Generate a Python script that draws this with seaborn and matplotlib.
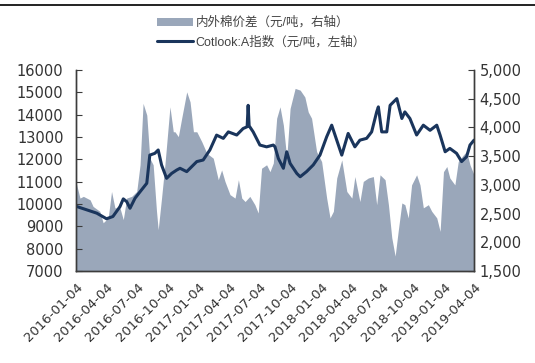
import matplotlib
matplotlib.use("Agg")
import matplotlib.pyplot as plt
from matplotlib.lines import Line2D
import pandas as pd
import seaborn as sns

# Cotlook:A index (yuan/ton, left axis)
cotlook_dates = [
    "2016-01-04", "2016-02-05", "2016-03-06", "2016-04-04", "2016-04-23", "2016-05-14",
    "2016-05-24", "2016-06-03", "2016-06-13", "2016-06-28", "2016-07-13", "2016-08-02",
    "2016-08-11", "2016-08-26", "2016-09-05", "2016-09-15", "2016-09-30", "2016-10-15",
    "2016-10-30", "2016-11-09", "2016-11-29", "2016-12-29", "2017-01-17", "2017-02-06",
    "2017-02-26", "2017-03-18", "2017-04-02", "2017-04-27", "2017-05-16", "2017-05-28",
    "2017-05-31", "2017-06-03", "2017-06-15", "2017-07-05", "2017-07-25", "2017-08-14",
    "2017-08-19", "2017-08-29", "2017-09-13", "2017-09-23", "2017-10-03", "2017-10-23",
    "2017-11-02", "2017-11-21", "2017-12-11", "2017-12-31", "2018-01-20", "2018-02-04",
    "2018-02-19", "2018-03-06", "2018-03-25", "2018-04-14", "2018-04-29", "2018-05-19",
    "2018-06-03", "2018-06-18", "2018-06-23", "2018-07-03", "2018-07-18", "2018-07-28",
    "2018-08-17", "2018-09-01", "2018-09-10", "2018-09-25", "2018-10-15", "2018-11-04",
    "2018-11-24", "2018-12-14", "2018-12-24", "2019-01-08", "2019-01-22", "2019-02-11",
    "2019-02-26", "2019-03-13", "2019-03-23", "2019-04-04",
]
cotlook_values = [
    9900, 9740, 9590, 9340, 9440, 9880,
    10230, 10110, 9810, 10260, 10550, 10930,
    12190, 12270, 12420, 11750, 11150, 11370,
    11520, 11600, 11450, 11900, 11970, 12420,
    13085, 12940, 13230, 13090, 13380, 13460,
    14420, 13500, 13230, 12640, 12560, 12640,
    12560, 12040, 11600, 12340, 11820, 11370,
    11220, 11450, 11750, 12190, 13010, 13530,
    12860, 12190, 13160, 12560, 12860, 12940,
    13230, 14125, 14350, 13230, 13230, 14420,
    14720, 13830, 14125, 13830, 13090, 13530,
    13300, 13530, 13085, 12340, 12490, 12270,
    11900, 12120, 12640, 12860,
]

# Domestic minus imported cotton price spread (yuan/ton, right axis)
spread_dates = [
    "2016-01-04", "2016-01-16", "2016-01-26", "2016-02-15", "2016-02-24", "2016-03-15",
    "2016-03-25", "2016-04-09", "2016-04-19", "2016-04-29", "2016-05-14", "2016-05-24",
    "2016-06-03", "2016-06-18", "2016-07-03", "2016-07-13", "2016-07-22", "2016-08-02",
    "2016-08-11", "2016-08-21", "2016-08-31", "2016-09-05", "2016-09-15", "2016-09-25",
    "2016-10-10", "2016-10-20", "2016-10-25", "2016-11-04", "2016-11-14", "2016-11-29",
    "2016-12-09", "2016-12-19", "2016-12-29", "2017-01-13", "2017-01-28", "2017-02-16",
    "2017-03-03", "2017-03-13", "2017-03-23", "2017-04-07", "2017-04-22", "2017-05-02",
    "2017-05-12", "2017-05-22", "2017-06-05", "2017-06-20", "2017-06-30", "2017-07-10",
    "2017-07-25", "2017-08-04", "2017-08-14", "2017-08-24", "2017-09-03", "2017-09-13",
    "2017-09-23", "2017-10-03", "2017-10-18", "2017-11-02", "2017-11-16", "2017-11-26",
    "2017-12-06", "2017-12-21", "2018-01-05", "2018-01-20", "2018-01-30", "2018-02-09",
    "2018-02-19", "2018-03-06", "2018-03-21", "2018-04-05", "2018-04-14", "2018-04-29",
    "2018-05-09", "2018-05-24", "2018-06-08", "2018-06-18", "2018-06-28", "2018-07-13",
    "2018-07-23", "2018-08-02", "2018-08-12", "2018-08-21", "2018-09-01", "2018-09-10",
    "2018-09-20", "2018-09-30", "2018-10-15", "2018-10-25", "2018-11-04", "2018-11-19",
    "2018-11-29", "2018-12-14", "2018-12-24", "2019-01-03", "2019-01-13", "2019-01-22",
    "2019-02-06", "2019-02-16", "2019-03-03", "2019-03-13", "2019-03-23", "2019-04-04",
]
spread_values = [
    3050, 2770, 2800, 2740, 2625, 2540,
    2340, 2425, 2885, 2600, 2600, 2395,
    2770, 2800, 2885, 3350, 4420, 4215,
    3465, 3350, 2540, 2220, 2770, 3350,
    4360, 3925, 3925, 3840, 4160, 4620,
    4445, 3925, 3925, 3750, 3550, 3465,
    3090, 3260, 3060, 2830, 2770, 3090,
    2770, 2710, 2800, 2655, 2510, 3290,
    3350, 3230, 3380, 4160, 4360, 4040,
    3465, 4330, 4680, 4650, 4530, 4270,
    4160, 3580, 3405, 2770, 2425, 2540,
    3120, 3435, 2885, 2770, 3145, 2710,
    3060, 3120, 3145, 2655, 3175, 3090,
    2655, 2080, 1760, 2190, 2685, 2655,
    2425, 3000, 3175, 3000, 2600, 2655,
    2540, 2425, 2190, 3230, 3320, 3120,
    3000, 3405, 3520, 3580, 3350, 3175,
]

tick_labels = [
    "2016-01-04", "2016-04-04", "2016-07-04", "2016-10-04", "2017-01-04",
    "2017-04-04", "2017-07-04", "2017-10-04", "2018-01-04", "2018-04-04",
    "2018-07-04", "2018-10-04", "2019-01-04", "2019-04-04",
]

spread_label = "内外棉价差（元/吨，右轴）"
cotlook_label = "Cotlook:A指数（元/吨，左轴）"

cotlook = pd.DataFrame({"date": pd.to_datetime(cotlook_dates), "value": cotlook_values})
spread = pd.DataFrame({"date": pd.to_datetime(spread_dates), "value": spread_values})
ticks = pd.to_datetime(tick_labels)

sns.set_theme(style="white")
plt.rcParams["font.family"] = ["DejaVu Sans", "Noto Sans CJK SC"]

AREA = "#9aa7ba"
LINE = "#1a355c"
TEXT = "#333333"
SPINE = "#3c3c3c"

fig = plt.figure(figsize=(5.35, 3.63), dpi=100)
ax = fig.add_axes([0.142, 0.2534, 0.744, 0.5537])
ax2 = ax.twinx()

# spread area on the right axis
ax2.fill_between(spread["date"], 1500, spread["value"], color=AREA, linewidth=0)
ax2.set_ylim(1500, 5000)
ax2.set_yticks(range(1500, 5001, 500))
ax2.set_yticklabels([f"{v:,}" for v in range(1500, 5001, 500)])

# index line on the left axis, drawn above the area
sns.lineplot(data=cotlook, x="date", y="value", ax=ax, color=LINE, linewidth=2.2)
ax.set_zorder(ax2.get_zorder() + 1)
ax.patch.set_visible(False)
ax.set_ylim(7000, 16000)
ax.set_yticks(range(7000, 16001, 1000))
ax.set_xlim(ticks[0], ticks[-1])
ax.set_xticks(ticks)
ax.set_xticklabels(tick_labels, rotation=45, ha="right", rotation_mode="anchor")
ax.set_xlabel("")
ax.set_ylabel("")

for a in (ax, ax2):
    a.spines["top"].set_visible(False)
    for side in ("left", "right", "bottom"):
        a.spines[side].set_color(SPINE)
        a.spines[side].set_linewidth(1.0)
    a.grid(False)

ax.tick_params(axis="y", direction="in", length=4, width=0.8, color=SPINE,
               labelsize=10.5, labelcolor=TEXT, pad=9)
ax.tick_params(axis="x", direction="in", length=4, width=0.8, color=SPINE,
               labelsize=9.5, labelcolor=TEXT, pad=7)
ax2.tick_params(axis="y", direction="in", length=4, width=0.8, color=SPINE,
                labelsize=10.5, labelcolor=TEXT, pad=4)

handles = [
    plt.Rectangle((0, 0), 1, 1, facecolor=AREA, edgecolor="none"),
    Line2D([0], [0], color=LINE, linewidth=2.2),
]
fig.legend(handles, [spread_label, cotlook_label], loc="upper left",
           bbox_to_anchor=(0.272, 0.985), frameon=False,
           handlelength=2.9, handleheight=0.6, handletextpad=0.2,
           labelspacing=0.55, labelcolor="#444444",
           prop={"family": ["Liberation Sans", "Noto Sans CJK SC"], "size": 9})

# report header rule
fig.add_artist(Line2D([0, 1], [0.985, 0.985], transform=fig.transFigure,
                      color="#111111", linewidth=1.3))

fig.savefig("out.png", dpi=100)
